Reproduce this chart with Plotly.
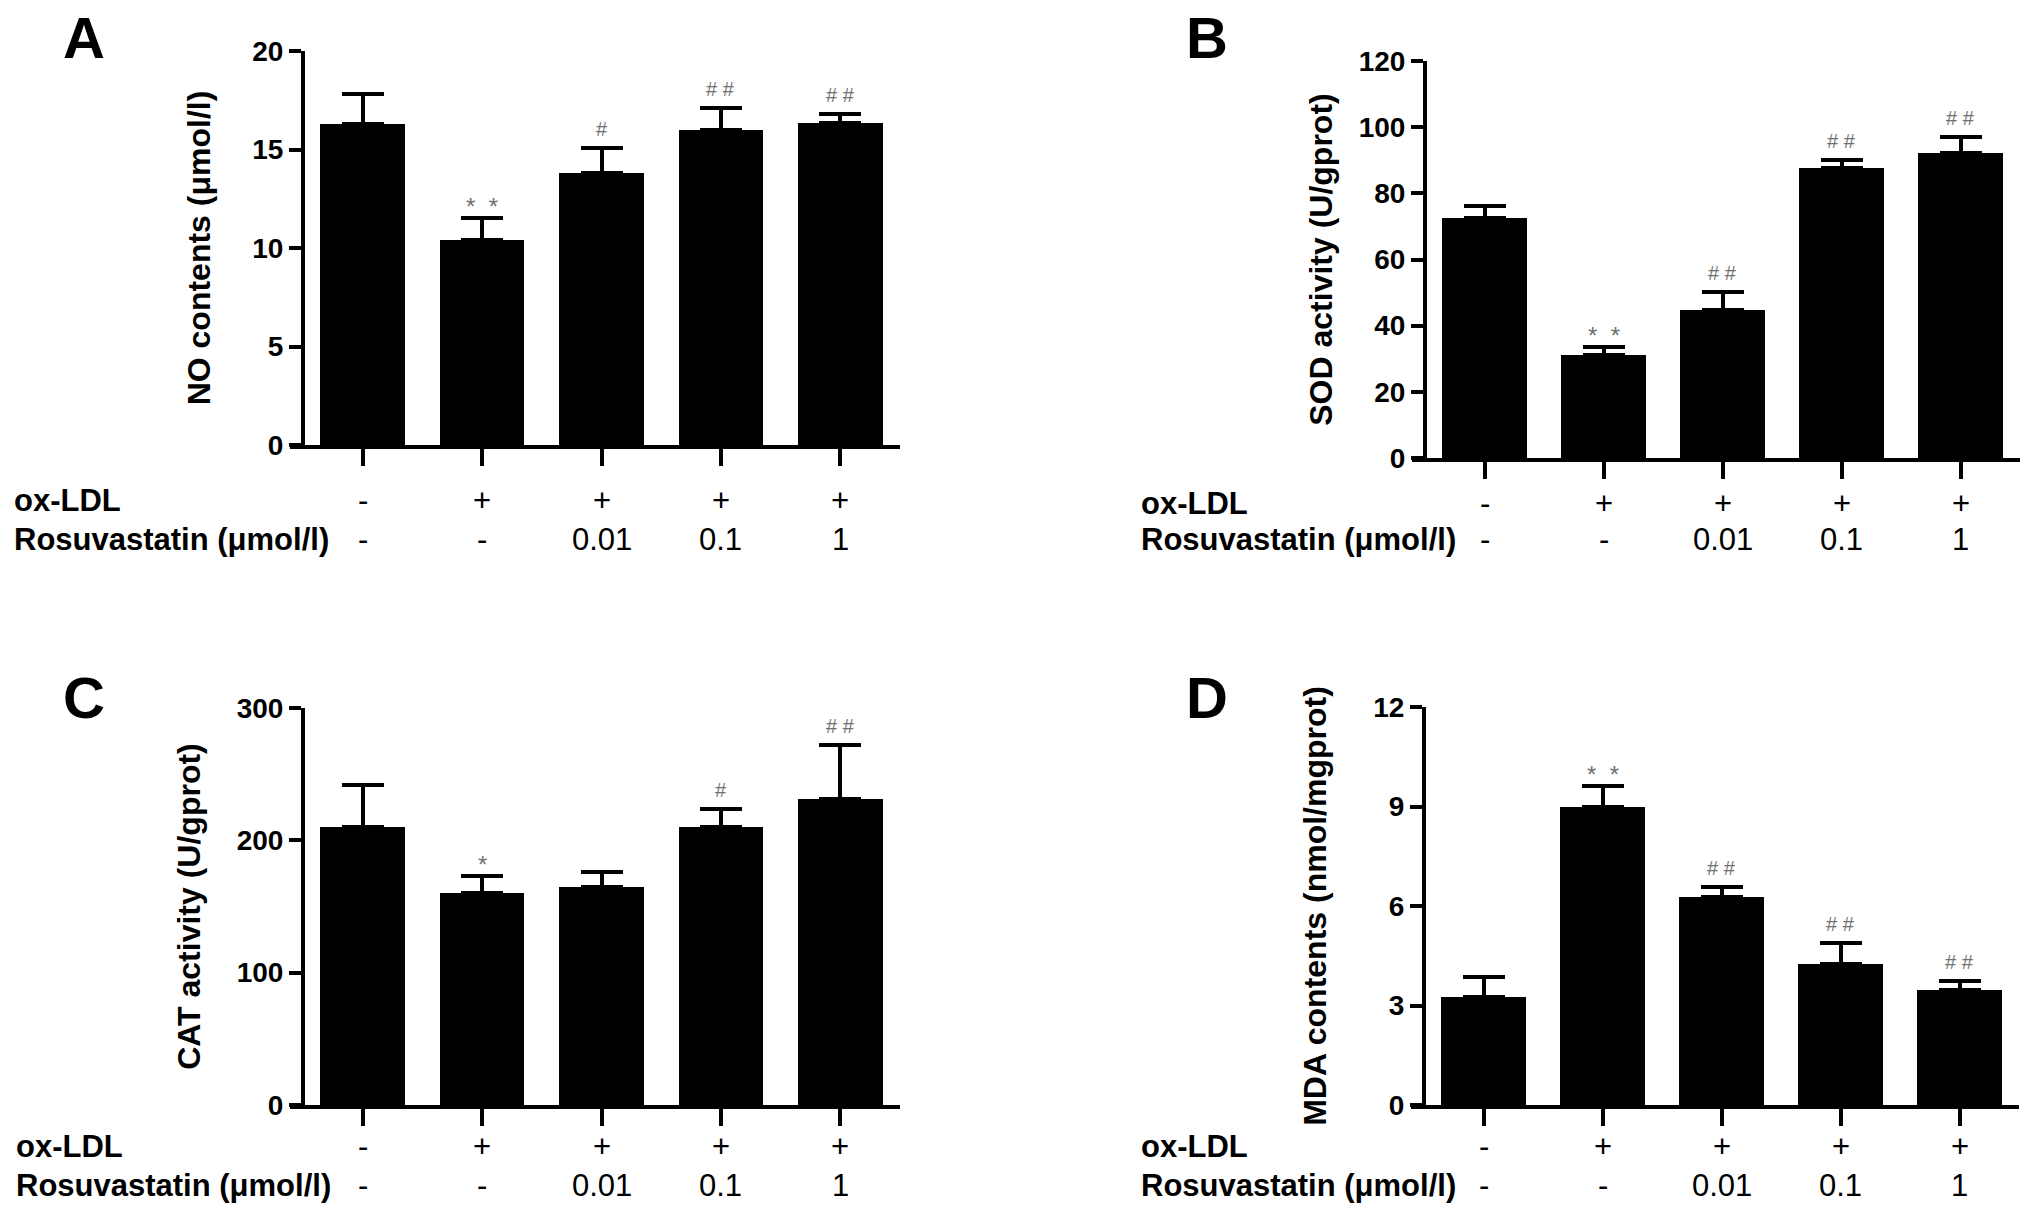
import plotly.graph_objects as go

W, H = 2031, 1214

# treatment rows under each panel
ox_ldl = ["-", "+", "+", "+", "+"]
rosuvastatin = ["-", "-", "0.01", "0.1", "1"]

# A: NO contents
no_mean = [16.3, 10.4, 13.8, 16.0, 16.35]
no_sem = [1.5, 1.1, 1.3, 1.1, 0.45]
no_marks = ["", "* *", "#", "# #", "# #"]

# B: SOD activity
sod_mean = [72.4, 31.1, 44.8, 87.7, 92.2]
sod_sem = [3.7, 2.4, 5.5, 2.4, 4.9]
sod_marks = ["", "* *", "# #", "# #", "# #"]

# C: CAT activity
cat_mean = [210, 160, 165, 210, 231]
cat_sem = [32, 13, 11, 13.5, 41]
cat_marks = ["", "*", "", "#", "# #"]

# D: MDA contents
mda_mean = [3.25, 8.98, 6.26, 4.26, 3.47]
mda_sem = [0.62, 0.65, 0.3, 0.61, 0.27]
mda_marks = ["", "* *", "# #", "# #", "# #"]

FONT = "Liberation Sans, Arial, sans-serif"


def px_x(p):
    return p / W


def px_y(p):
    return 1 - p / H


# (letter, ytitle, means, sems, marks, ymax, dtick, x_left_px, x_right_px, y_top_px, y_zero_px,
#  row1_px, row2_px, lab_left_px, title_standoff)
panels = [
    ("A", "NO contents (μmol/l)", no_mean, no_sem, no_marks, 20, 5, 303, 900, 51, 445, 501, 540, 12, 31),
    ("B", "SOD activity (U/gprot)", sod_mean, sod_sem, sod_marks, 120, 20, 1425, 2020, 61, 458, 503, 540, 1139, 15),
    ("C", "CAT activity (U/gprot)", cat_mean, cat_sem, cat_marks, 300, 100, 303, 900, 708, 1105, 1146, 1185, 14, 25),
    ("D", "MDA contents (nmol/mgprot)", mda_mean, mda_sem, mda_marks, 12, 3, 1424, 2019, 707, 1105, 1146, 1185, 1139, 36),
]

fig = go.Figure()
annotations = []
cats = list(range(len(ox_ldl)))

for i, (letter, ytitle, mean, sem, marks, ymax, dtick, xl, xr, yt, yz, r1, r2, ll, sto) in enumerate(panels):
    n = i + 1
    xa = "x" if n == 1 else f"x{n}"
    ya = "y" if n == 1 else f"y{n}"
    fig.add_trace(
        go.Bar(
            x=cats,
            y=mean,
            width=0.71,
            marker=dict(color="black", line=dict(width=0)),
            error_y=dict(
                type="data",
                symmetric=False,
                array=sem,
                arrayminus=[0] * len(sem),
                color="black",
                thickness=4,
                width=21,
            ),
            xaxis=xa,
            yaxis=ya,
            showlegend=False,
        )
    )
    stick = 13  # x-axis sticks out left of the y-axis, like the tick length
    ext = stick / ((xr - xl) / 5)
    fig.update_layout(
        **{
            ("xaxis" if n == 1 else f"xaxis{n}"): dict(
                domain=[px_x(xl - stick), px_x(xr)],
                range=[-0.5 - ext, 4.5],
                anchor=ya,
                showline=True,
                linewidth=4,
                linecolor="black",
                ticks="outside",
                ticklen=17,
                tickwidth=4,
                tickcolor="black",
                tickvals=cats,
                showticklabels=False,
                showgrid=False,
                zeroline=False,
                fixedrange=True,
                automargin=False,
            ),
            ("yaxis" if n == 1 else f"yaxis{n}"): dict(
                domain=[px_y(yz), px_y(yt)],
                range=[0, ymax],
                anchor="free",
                position=px_x(xl),
                showline=True,
                linewidth=4,
                linecolor="black",
                ticks="outside",
                ticklen=12,
                tickwidth=4,
                tickcolor="black",
                dtick=dtick,
                tick0=0,
                tickfont=dict(family=FONT, size=28, color="black", weight="bold"),
                title=dict(
                    text=ytitle,
                    font=dict(family=FONT, size=32, color="black", weight="bold"),
                    standoff=sto,
                ),
                showgrid=False,
                zeroline=False,
                fixedrange=True,
                automargin=False,
            ),
        }
    )

    # significance marks above error bars
    for c, m, s, mk in zip(cats, mean, sem, marks):
        if mk:
            star = "*" in mk
            annotations.append(
                dict(
                    x=c, y=m + s, xref=xa, yref=ya,
                    text=mk.replace(" ", "\u00a0\u00a0") if star else mk,
                    showarrow=False, yanchor="bottom", yshift=-4 if star else 6,
                    font=dict(family=FONT, size=24 if star else 20, color="#707070"),
                )
            )

    # treatment rows
    for lab, vals, ry in (("ox-LDL", ox_ldl, r1), ("Rosuvastatin (μmol/l)", rosuvastatin, r2)):
        annotations.append(
            dict(
                x=px_x(ll), y=px_y(ry), xref="paper", yref="paper", text=lab,
                showarrow=False, xanchor="left", yanchor="middle",
                font=dict(family=FONT, size=31, color="black", weight="bold"),
            )
        )
        for c, v in zip(cats, vals):
            annotations.append(
                dict(
                    x=c, y=px_y(ry), xref=xa, yref="paper", text=v,
                    showarrow=False, xanchor="center", yanchor="middle",
                    font=dict(family=FONT, size=31, color="black"),
                )
            )

    # panel letter
    lx = 84 if letter in "AC" else 1207
    ly = 37 if letter in "AB" else 697
    annotations.append(
        dict(
            x=px_x(lx), y=px_y(ly), xref="paper", yref="paper", text=letter,
            showarrow=False, xanchor="center", yanchor="middle",
            font=dict(family=FONT, size=58, color="black", weight="bold"),
        )
    )

fig.update_layout(
    width=W,
    height=H,
    margin=dict(l=0, r=0, t=0, b=0, pad=0),
    paper_bgcolor="white",
    plot_bgcolor="white",
    annotations=annotations,
    bargap=0,
)

# drop the default page margin so the figure sits exactly in the window
fig.write_html(
    "out.html",
    config={"displayModeBar": False},
    post_script="document.body.style.margin='0';",
)
